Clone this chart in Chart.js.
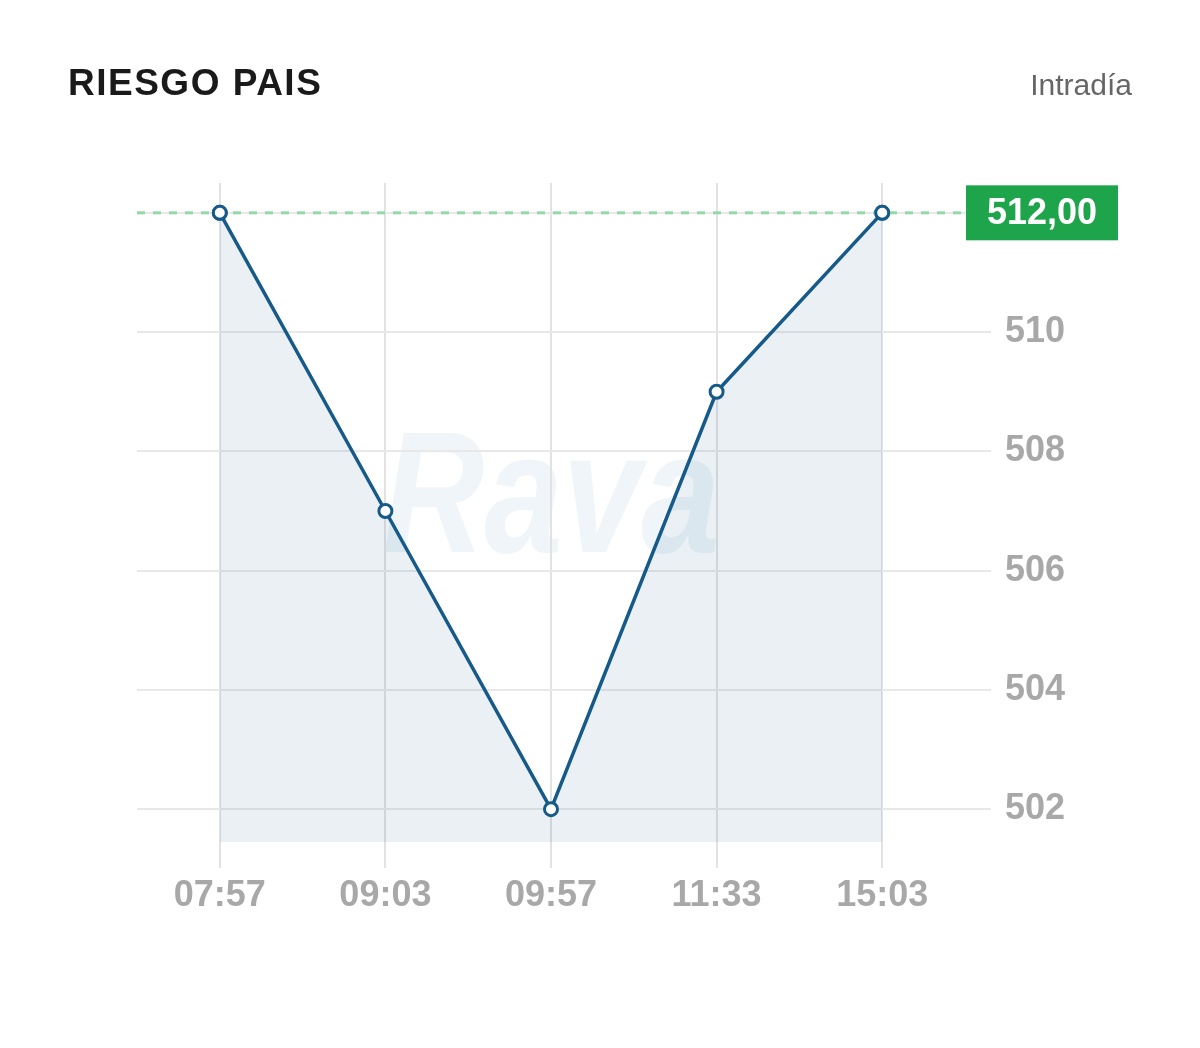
<!DOCTYPE html>
<html>
<head>
<meta charset="utf-8">
<script src="https://cdn.jsdelivr.net/npm/chart.js@4.4.1/dist/chart.umd.min.js"></script>
<style>
  html, body { margin: 0; padding: 0; background: #ffffff; }
  #wrap { position: relative; width: 1200px; height: 1048px; }
  canvas { display: block; }
</style>
</head>
<body>
<div id="wrap"><canvas id="c" width="1200" height="1048"></canvas></div>
<script>
// ---- data ----
const titleText = 'RIESGO PAIS';
const periodText = 'Intradía';
const categories = ['07:57', '09:03', '09:57', '11:33', '15:03'];
const values = [512, 507, 502, 509, 512];
const yTicks = [502, 504, 506, 508, 510, 512];
const lastValue = values[values.length - 1];
const lastLabel = lastValue.toFixed(2).replace('.', ',');

const FONT = "'Liberation Sans', Arial, sans-serif";

const decor = {
  id: 'decor',
  beforeDraw(chart) {
    const { ctx, chartArea } = chart;
    ctx.save();
    // watermark
    const cx = (chartArea.left + chartArea.right) / 2;
    const cy = (chartArea.top + chartArea.bottom) / 2;
    ctx.translate(cx, cy);
    ctx.scale(0.82, 1);
    ctx.font = "italic bold 172px " + FONT;
    ctx.textAlign = 'center';
    ctx.textBaseline = 'middle';
    ctx.fillStyle = 'rgba(214,228,240,0.38)';
    ctx.fillText('Rava', 0, -8);
    ctx.restore();

    // titles
    ctx.save();
    ctx.fillStyle = '#1a1a1a';
    ctx.font = "bold 37px " + FONT;
    ctx.textAlign = 'left';
    ctx.textBaseline = 'alphabetic';
    try { ctx.letterSpacing = '1.5px'; } catch (e) {}
    ctx.fillText(titleText, 68, 95);
    try { ctx.letterSpacing = '0px'; } catch (e) {}
    ctx.fillStyle = '#666666';
    ctx.font = "30px " + FONT;
    ctx.textAlign = 'right';
    ctx.fillText(periodText, 1132, 95);
    ctx.restore();
  },
  afterDraw(chart) {
    const { ctx, chartArea, scales } = chart;
    const y = scales.y.getPixelForValue(lastValue);
    ctx.save();
    ctx.strokeStyle = '#92d9a6';
    ctx.lineWidth = 3;
    ctx.setLineDash([8, 8]);
    ctx.beginPath();
    ctx.moveTo(chartArea.left, y);
    ctx.lineTo(chartArea.right, y);
    ctx.stroke();
    ctx.setLineDash([]);
    // redraw points on top of dashed line
    const meta = chart.getDatasetMeta(0);
    meta.data.forEach((pt, i) => {
      if (values[i] === lastValue) pt.draw(ctx, chartArea);
    });
    // label box
    const bx = chartArea.right + 1, bw = 152, bh = 55;
    ctx.fillStyle = '#1ea54c';
    ctx.fillRect(bx, y - bh / 2, bw, bh);
    ctx.fillStyle = '#ffffff';
    ctx.font = "bold 36px " + FONT;
    ctx.textAlign = 'center';
    ctx.textBaseline = 'middle';
    ctx.fillText(lastLabel, bx + bw / 2, y + 1);
    ctx.restore();
  }
};

new Chart(document.getElementById('c'), {
  type: 'line',
  data: {
    labels: categories,
    datasets: [{
      data: values,
      borderColor: '#165a8a',
      borderWidth: 3.5,
      backgroundColor: 'rgba(22,90,138,0.09)',
      fill: 'start',
      tension: 0,
      pointRadius: 6.5,
      pointBorderWidth: 3,
      pointBackgroundColor: '#ffffff',
      pointBorderColor: '#165a8a'
    }]
  },
  options: {
    responsive: false,
    devicePixelRatio: 1,
    animation: false,
    layout: { padding: { left: 137, top: 183, right: 0, bottom: 0 } },
    plugins: { legend: { display: false }, tooltip: { enabled: false }, title: { display: false } },
    scales: {
      x: {
        type: 'category',
        offset: true,
        border: { display: false },
        grid: { offset: false, color: '#e2e2e2', lineWidth: 2, tickLength: 26, drawTicks: true },
        ticks: { color: '#a8a8a8', padding: 6, font: { family: FONT, size: 36, weight: 'bold' }, maxRotation: 0 },
        afterFit(scale) { scale.height = 206; }
      },
      y: {
        position: 'right',
        min: 501.45,
        max: 512.5,
        border: { display: false },
        grid: { color: '#e8e8e8', lineWidth: 2, tickLength: 26, drawTicks: true },
        ticks: {
          color: '#a8a8a8', padding: 14,
          font: { family: FONT, size: 36, weight: 'bold' },
          callback: (v) => (v === lastValue ? '' : String(v))
        },
        afterBuildTicks(scale) { scale.ticks = yTicks.map(v => ({ value: v })); },
        afterFit(scale) { scale.width = 235; }
      }
    }
  },
  plugins: [decor]
});
</script>
</body>
</html>
